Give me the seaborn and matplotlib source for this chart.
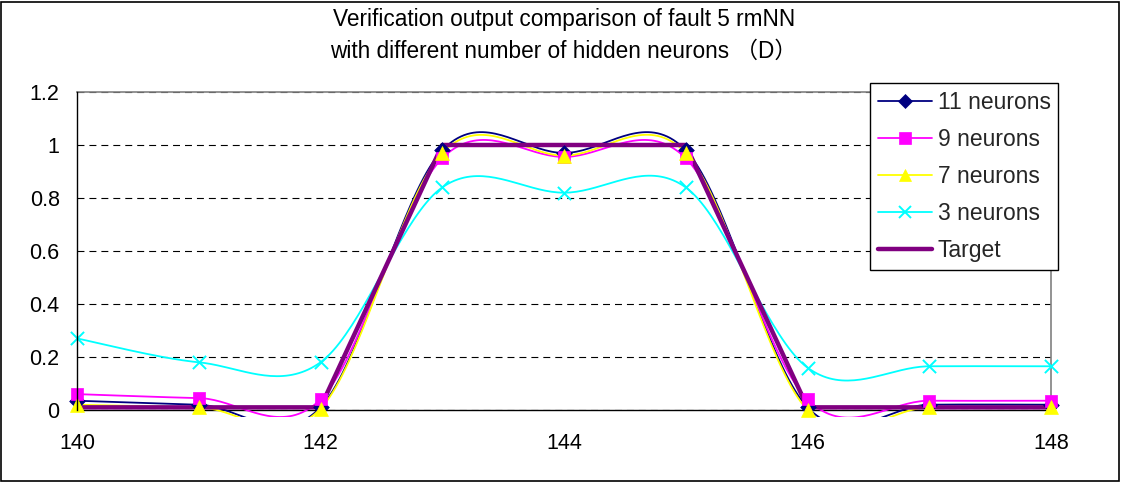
import numpy as np
import pandas as pd
import matplotlib
matplotlib.use("Agg")
import matplotlib.pyplot as plt
import seaborn as sns
from matplotlib.lines import Line2D
from matplotlib.patches import Rectangle

# ---- data ----
x_vals = [140, 141, 142, 143, 144, 145, 146, 147, 148]
n11 = [0.035, 0.02, 0.01, 0.98, 0.97, 0.98, 0.01, 0.02, 0.02]
n9 = [0.06, 0.045, 0.04, 0.95, 0.955, 0.95, 0.04, 0.035, 0.035]
n7 = [0.02, 0.01, 0.005, 0.97, 0.96, 0.97, 0.0, 0.01, 0.01]
n3 = [0.27, 0.18, 0.18, 0.84, 0.82, 0.84, 0.16, 0.165, 0.165]
target = [0.01, 0.01, 0.01, 1.0, 1.0, 1.0, 0.01, 0.01, 0.01]

series_names = ["11 neurons", "9 neurons", "7 neurons", "3 neurons", "Target"]
title_lines = ["Verification output comparison of fault 5 rmNN",
               "with different number of hidden neurons \uff08D\uff09"]
x_ticks = [140, 142, 144, 146, 148]
y_ticks = [0, 0.2, 0.4, 0.6, 0.8, 1.0, 1.2]
y_tick_labels = ["0", "0.2", "0.4", "0.6", "0.8", "1", "1.2"]


def excel_smooth(xs, ys, n=40):
    """Excel-style smoothed line: cubic Bezier with control points P1 +/- (P2-P0)/6."""
    P = np.column_stack([xs, ys]).astype(float)
    out = []
    m = len(P)
    for i in range(m - 1):
        p0 = P[i - 1] if i > 0 else P[i]
        p1 = P[i]
        p2 = P[i + 1]
        p3 = P[i + 2] if i + 2 < m else P[i + 1]
        c1 = p1 + (p2 - p0) / 6.0
        c2 = p2 - (p3 - p1) / 6.0
        t = np.linspace(0, 1, n)[:, None]
        seg = ((1 - t) ** 3) * p1 + 3 * ((1 - t) ** 2) * t * c1 + 3 * (1 - t) * t ** 2 * c2 + t ** 3 * p2
        out.append(seg if i == 0 else seg[1:])
    s = np.vstack(out)
    return s[:, 0], s[:, 1]


sns.set_theme(style="white")
plt.rcParams["font.family"] = ["Liberation Sans", "Noto Sans CJK SC", "DejaVu Sans"]
plt.rcParams["lines.scale_dashes"] = False

W, H = 1121, 482
fig = plt.figure(figsize=(W / 100, H / 100), dpi=100)
L, R, T, B = 77, 1051, 92, 410
ax = fig.add_axes([L / W, 1 - B / H, (R - L) / W, (B - T) / H])

# clip region: Excel's plot area reaches a few pixels below the x axis
clip_rect = Rectangle((0, -7 / (B - T)), 1, 1 + 7 / (B - T), transform=ax.transAxes,
                      fill=False, visible=False)
ax.add_patch(clip_rect)

styles = [
    dict(color="#000080", marker="D", ms=8, smooth=True),
    dict(color="#FF00FF", marker="s", ms=9, smooth=True),
    dict(color="#FFFF00", marker="^", ms=10, smooth=True),
    dict(color="#00FFFF", marker="x", ms=9.5, smooth=True),
    dict(color="#800080", marker=None, ms=0, smooth=False),
]
data = [n11, n9, n7, n3, target]

for k, (name, ys, st) in enumerate(zip(series_names, data, styles)):
    if st["smooth"]:
        sx, sy = excel_smooth(x_vals, ys)
        lw = 1.3
    else:
        sx, sy = np.array(x_vals, float), np.array(ys, float)
        lw = 3.2
    df = pd.DataFrame({"x": sx, "y": sy})
    n_before = len(ax.lines)
    sns.lineplot(data=df, x="x", y="y", sort=False, estimator=None, ax=ax,
                 color=st["color"], lw=lw, zorder=3 + k * 0.1, legend=False)
    for ln in ax.lines[n_before:]:
        ln.set_clip_path(clip_rect)

for k, (name, ys, st) in enumerate(zip(series_names, data, styles)):
    if st["marker"] is None:
        continue
    dfp = pd.DataFrame({"x": x_vals, "y": ys})
    if st["marker"] == "x":
        sns.scatterplot(data=dfp, x="x", y="y", ax=ax, marker="x", color=st["color"],
                        s=st["ms"] ** 2, linewidth=1.4, zorder=5 + k * 0.1, legend=False,
                        clip_on=False)
    else:
        sns.scatterplot(data=dfp, x="x", y="y", ax=ax, marker=st["marker"], color=st["color"],
                        edgecolor=st["color"], s=st["ms"] ** 2, linewidth=0.5,
                        zorder=5 + k * 0.1, legend=False, clip_on=False)

ax.set_xlim(140, 148)
ax.set_ylim(0, 1.2)
ax.set_xticks(x_ticks)
ax.set_xticklabels([str(v) for v in x_ticks])
ax.set_yticks(y_ticks)
ax.set_yticklabels(y_tick_labels)
ax.set_xlabel("")
ax.set_ylabel("")
ax.tick_params(axis="both", direction="out", length=5.5, width=1, color="black",
               labelsize=15.5, labelcolor="black")
ax.tick_params(axis="y", pad=7)
ax.tick_params(axis="x", pad=11)
ax.yaxis.grid(True, linestyle=(0, (5, 3.6)), color="black", lw=0.8)
ax.xaxis.grid(False)
ax.set_axisbelow(True)
for s in ["left", "bottom"]:
    ax.spines[s].set_color("black")
    ax.spines[s].set_linewidth(1)
for s in ["top", "right"]:
    ax.spines[s].set_color("#808080")
    ax.spines[s].set_linewidth(1.2)
ax.spines["left"].set_zorder(6)
ax.spines["bottom"].set_zorder(2.6)

# title
cx = (L + R) / 2 / W
fig.text(cx, 1 - 25.7 / H, title_lines[0], ha="center", va="baseline", fontsize=16.3, color="black")
fig.text(cx, 1 - 58 / H, title_lines[1], ha="center", va="baseline", fontsize=16.3, color="black")

# legend
handles = []
for name, st in zip(series_names, styles):
    if st["marker"] is None:
        handles.append(Line2D([], [], color=st["color"], lw=3.2))
    else:
        handles.append(Line2D([], [], color=st["color"], lw=1.3, marker=st["marker"],
                              ms=st["ms"] * 0.9, mec=st["color"],
                              mew=1.4 if st["marker"] == "x" else 0.5))
leg = fig.legend(handles, series_names, loc="upper left",
                 bbox_to_anchor=(870 / W, 1 - 83 / H), bbox_transform=fig.transFigure,
                 fontsize=16.5, frameon=True, fancybox=False, framealpha=1,
                 edgecolor="black", handlelength=2.36, handletextpad=0.26,
                 labelspacing=0.62, borderpad=0.33, borderaxespad=0)
leg.get_frame().set_linewidth(1)
leg.set_zorder(10)

# chart-area border
fig.patches.append(Rectangle((1 / W, 1 / H), (W - 3) / W, (H - 3) / H, transform=fig.transFigure,
                             fill=False, edgecolor="black", lw=1.2))

fig.savefig("out.png", dpi=100, facecolor="white")
